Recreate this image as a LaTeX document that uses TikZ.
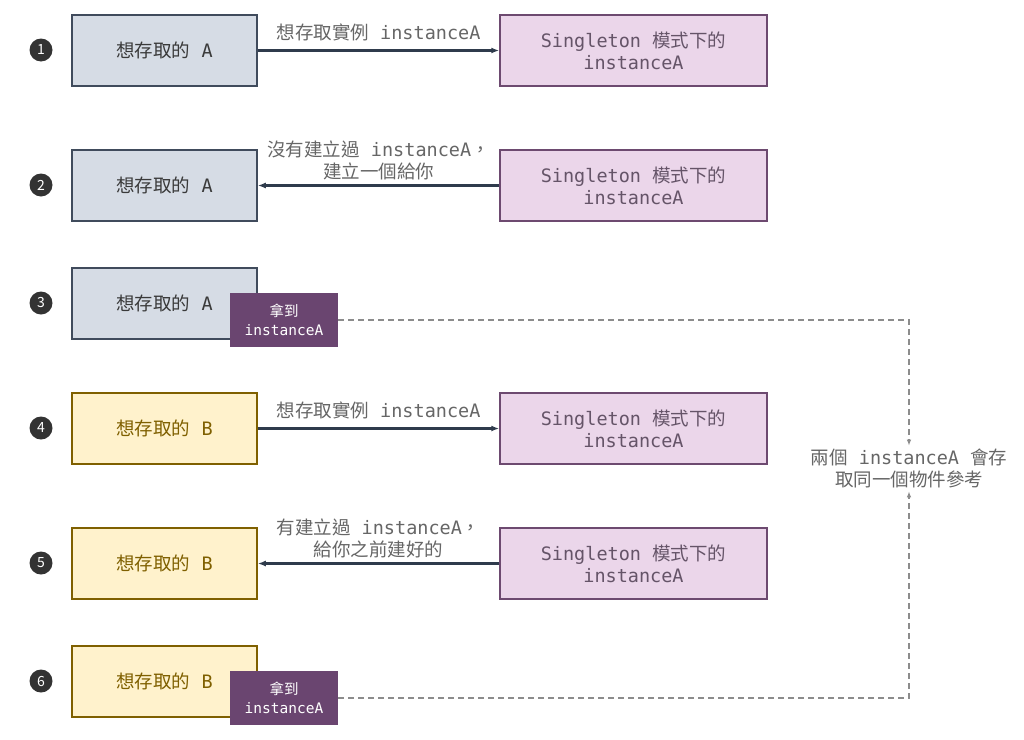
\documentclass[tikz,border=0pt]{standalone}
\usepackage{fontspec}
\setmainfont{Noto Sans CJK TC}
\newfontfamily\mono{DejaVu Sans Mono}
\usetikzlibrary{arrows.meta}

\definecolor{aFill}{HTML}{D6DCE5}
\definecolor{aLine}{HTML}{404B5C}
\definecolor{aText}{HTML}{3A3A3A}
\definecolor{bFill}{HTML}{FFF2CC}
\definecolor{bLine}{HTML}{7F6000}
\definecolor{sFill}{HTML}{EBD6EA}
\definecolor{sLine}{HTML}{6D4A70}
\definecolor{sText}{HTML}{655468}
\definecolor{gFill}{HTML}{6A4570}
\definecolor{numFill}{HTML}{333333}
\definecolor{arrowCol}{HTML}{2F3B4C}
\definecolor{lblCol}{HTML}{666666}
\definecolor{dashCol}{HTML}{8C8C8C}

\tikzset{
	numdot/.style={circle,fill=numFill,text=white,minimum size=23pt,
		inner sep=0pt,font=\fontsize{14}{14}\selectfont},
	boxA/.style={draw=aLine,fill=aFill,text=aText,line width=1.5pt,
		minimum width=185pt,minimum height=71pt,inner sep=0pt,
		font=\fontsize{18.5}{22}\selectfont},
	boxB/.style={boxA,draw=bLine,fill=bFill,text=bLine},
	single/.style={draw=sLine,fill=sFill,text=sText,line width=1.5pt,
		minimum width=267pt,minimum height=71pt,inner sep=0pt,align=center,
		font=\fontsize{18.5}{22}\selectfont},
	gotbox/.style={fill=gFill,text=white,minimum width=108pt,
		minimum height=54pt,inner sep=0pt,align=center,
		font=\fontsize{14.5}{19}\selectfont},
	lbl/.style={text=lblCol,align=center,inner sep=3pt,
		font=\fontsize{18.5}{22}\selectfont},
	callarrow/.style={draw=arrowCol,line width=2.2pt,
		-{Latex[length=8pt,width=6pt]}},
	shareline/.style={draw=dashCol,line width=1.2pt,
		dash pattern=on 6pt off 4pt,-{Latex[length=6pt,width=4.5pt]}}
}

\begin{document}
\begin{tikzpicture}[x=1pt,y=-1pt]
	\useasboundingbox (0,0) rectangle (1024,739);

	% Steg 1
	\node[numdot] (n1) at (41,50) {1};
	\node[boxA] (a1) at (164.5,50.5) {想存取的{\mono\ A}};
	\node[single] (s1) at (633.5,50.5)
		{{\mono Singleton\ }模式下的\\{\mono instanceA}};
	\draw[callarrow] (a1.east) -- (s1.west)
		node[lbl,midway,above=5pt] (l1) {想存取實例{\mono\ instanceA}};

	% Steg 2
	\node[numdot] (n2) at (41,185) {2};
	\node[boxA] (a2) at (164.5,185.5) {想存取的{\mono\ A}};
	\node[single] (s2) at (633.5,185.5)
		{{\mono Singleton\ }模式下的\\{\mono instanceA}};
	\draw[callarrow] (s2.west) -- (a2.east)
		node[lbl,midway,above=1pt] (l2)
		{沒有建立過{\mono\ instanceA}，\\建立一個給你};

	% Steg 3
	\node[numdot] (n3) at (41,303) {3};
	\node[boxA] (a3) at (164.5,303.5) {想存取的{\mono\ A}};
	\node[gotbox] (g3) at (284,320) {拿到\\{\mono instanceA}};

	% Steg 4
	\node[numdot] (n4) at (41,428) {4};
	\node[boxB] (b4) at (164.5,428.5) {想存取的{\mono\ B}};
	\node[single] (s4) at (633.5,428.5)
		{{\mono Singleton\ }模式下的\\{\mono instanceA}};
	\draw[callarrow] (b4.east) -- (s4.west)
		node[lbl,midway,above=5pt] (l4) {想存取實例{\mono\ instanceA}};

	% Steg 5
	\node[numdot] (n5) at (41,563) {5};
	\node[boxB] (b5) at (164.5,563.5) {想存取的{\mono\ B}};
	\node[single] (s5) at (633.5,563.5)
		{{\mono Singleton\ }模式下的\\{\mono instanceA}};
	\draw[callarrow] (s5.west) -- (b5.east)
		node[lbl,midway,above=1pt] (l5)
		{有建立過{\mono\ instanceA}，\\給你之前建好的};

	% Steg 6
	\node[numdot] (n6) at (41,681) {6};
	\node[boxB] (b6) at (164.5,681.5) {想存取的{\mono\ B}};
	\node[gotbox] (g6) at (284,698) {拿到\\{\mono instanceA}};

	% Samme referanse
	\node[lbl] (same) at (909,468.5)
		{兩個{\mono\ instanceA\ }會存\\取同一個物件參考};
	\draw[shareline] (g3.east) -| (same.north);
	\draw[shareline] (g6.east) -| (same.south);
\end{tikzpicture}
\end{document}
